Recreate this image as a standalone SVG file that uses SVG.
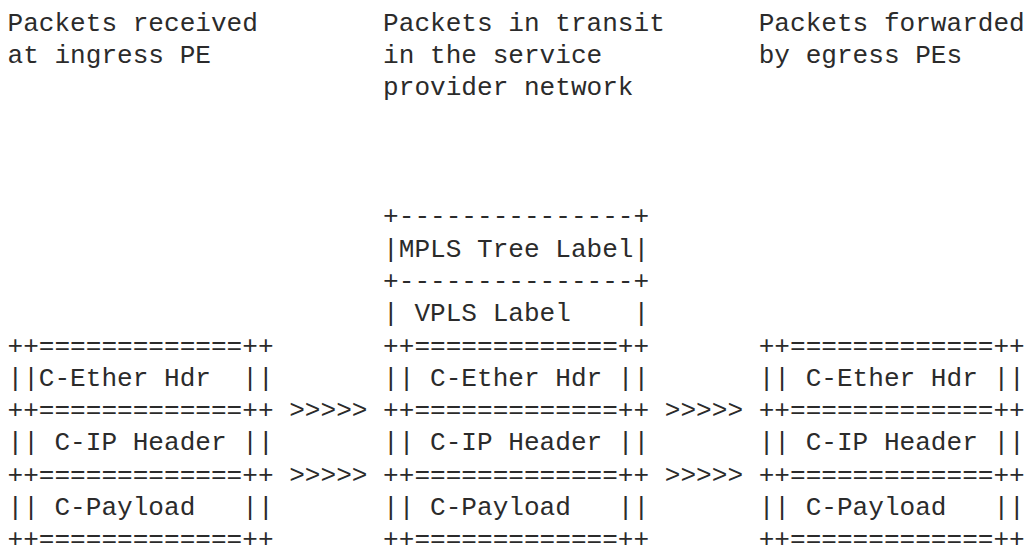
<svg xmlns="http://www.w3.org/2000/svg" width="1025" height="551" viewBox="0 0 1025 551" xml:space="preserve">
<style>
text { font-family: "Liberation Mono", "DejaVu Sans Mono", monospace; font-size: 26.08px; fill: #2b2b2b; white-space: pre; }
</style>
<rect width="1025" height="551" fill="#ffffff"/>
<g id="header-ingress">
<text x="7.5" y="30.5">Packets received</text>
<text x="7.5" y="62.8">at ingress PE</text>
</g>
<g id="header-transit">
<text x="383.1" y="30.5">Packets in transit</text>
<text x="383.1" y="62.8">in the service</text>
<text x="383.1" y="95.1">provider network</text>
</g>
<g id="header-egress">
<text x="758.7" y="30.5">Packets forwarded</text>
<text x="758.7" y="62.8">by egress PEs</text>
</g>
<g id="node-ingress">
<text x="7.5" y="353.5">++=============++</text>
<text x="7.5" y="385.8">||C-Ether Hdr  ||</text>
<text x="7.5" y="418.1">++=============++</text>
<text x="7.5" y="450.4">|| C-IP Header ||</text>
<text x="7.5" y="482.7">++=============++</text>
<text x="7.5" y="515">|| C-Payload   ||</text>
<text x="7.5" y="547.3">++=============++</text>
</g>
<g id="node-transit">
<text x="383.1" y="224.3">+---------------+</text>
<text x="383.1" y="256.6">|MPLS Tree Label|</text>
<text x="383.1" y="288.9">+---------------+</text>
<text x="383.1" y="321.2">| VPLS Label    |</text>
<text x="383.1" y="353.5">++=============++</text>
<text x="383.1" y="385.8">|| C-Ether Hdr ||</text>
<text x="383.1" y="418.1">++=============++</text>
<text x="383.1" y="450.4">|| C-IP Header ||</text>
<text x="383.1" y="482.7">++=============++</text>
<text x="383.1" y="515">|| C-Payload   ||</text>
<text x="383.1" y="547.3">++=============++</text>
</g>
<g id="node-egress">
<text x="758.7" y="353.5">++=============++</text>
<text x="758.7" y="385.8">|| C-Ether Hdr ||</text>
<text x="758.7" y="418.1">++=============++</text>
<text x="758.7" y="450.4">|| C-IP Header ||</text>
<text x="758.7" y="482.7">++=============++</text>
<text x="758.7" y="515">|| C-Payload   ||</text>
<text x="758.7" y="547.3">++=============++</text>
</g>
<g id="connectors">
<text x="289.2" y="418.1">&gt;&gt;&gt;&gt;&gt;</text>
<text x="289.2" y="482.7">&gt;&gt;&gt;&gt;&gt;</text>
<text x="664.8" y="418.1">&gt;&gt;&gt;&gt;&gt;</text>
<text x="664.8" y="482.7">&gt;&gt;&gt;&gt;&gt;</text>
</g>
</svg>
